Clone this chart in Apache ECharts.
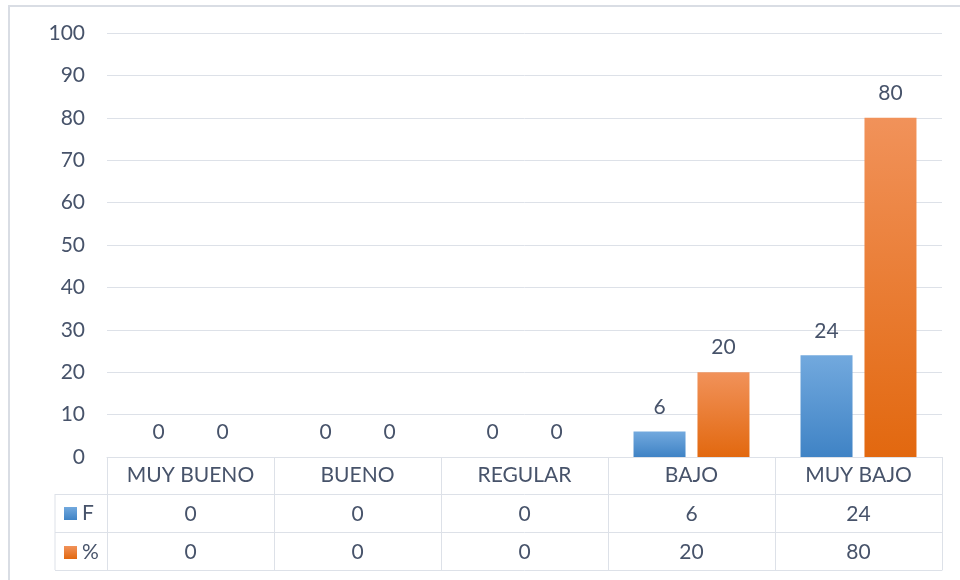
<!DOCTYPE html>
<html>
<head>
<meta charset="utf-8">
<script src="https://cdn.jsdelivr.net/npm/echarts@6/dist/echarts.min.js"></script>
<style>
  html, body { margin: 0; padding: 0; background: #fff; }
  #main { width: 960px; height: 580px; }
</style>
</head>
<body>
<div id="main"></div>
<script>
// datos del gráfico
const categories = ['MUY BUENO', 'BUENO', 'REGULAR', 'BAJO', 'MUY BAJO']
const seriesNames = ['F', '%']
const valuesF = [0, 0, 0, 6, 24]
const valuesPct = [0, 0, 0, 20, 80]
const yTicks = { min: 0, max: 100, interval: 10 }

// layout (px)
const G = { left: 107, right: 18, top: 33, bottom: 123 }
const ROW = [37, 75, 113]          // offsets of table row lines below the x axis
const TABLE_LEFT = 55
const FONT = 'Lato'
const FS = 21
const TXT = '#47536a'
const LINE = '#dde1e8'

const blue = new echarts.graphic.LinearGradient(0, 0, 0, 1, [
  { offset: 0, color: '#72a9de' }, { offset: 1, color: '#3f83c5' }
])
const orange = new echarts.graphic.LinearGradient(0, 0, 0, 1, [
  { offset: 0, color: '#f1925a' }, { offset: 1, color: '#e2680f' }
])

const chart = echarts.init(document.getElementById('main'))

const barLabel = { show: true, position: 'top', distance: 14, color: TXT, fontFamily: FONT, fontSize: FS }

// eje x "fila de tabla": mismas categorías, la etiqueta muestra el valor
function rowAxis(offset, vals) {
  return {
    type: 'category', data: categories, position: 'bottom', offset: offset,
    axisLine: { show: true, lineStyle: { color: LINE, width: 1 } },
    axisTick: { show: false },
    axisLabel: {
      show: !!vals, margin: 10, color: TXT, fontFamily: FONT, fontSize: FS,
      formatter: (v, i) => vals ? String(vals[i]) : ''
    },
    splitLine: { show: false }
  }
}

const H = 580
chart.setOption({
  animation: false,
  backgroundColor: '#fff',
  grid: { left: G.left, right: G.right, top: G.top, bottom: G.bottom },
  legend: {
    data: seriesNames, orient: 'vertical', left: 64, top: 503, padding: 0, itemGap: 18,
    icon: 'rect', itemWidth: 13, itemHeight: 13,
    textStyle: { color: TXT, fontFamily: FONT, fontSize: FS },
    selectedMode: false
  },
  xAxis: [
    {
      type: 'category', data: categories,
      axisLine: { show: true, lineStyle: { color: LINE, width: 1 } },
      axisTick: { show: true, inside: false, length: ROW[2], lineStyle: { color: LINE } },
      axisLabel: { margin: 8, color: TXT, fontFamily: FONT, fontSize: FS },
      splitLine: { show: false }
    },
    rowAxis(ROW[0], valuesF),
    rowAxis(ROW[1], valuesPct),
    rowAxis(ROW[2], null)
  ],
  yAxis: {
    type: 'value', min: yTicks.min, max: yTicks.max, interval: yTicks.interval,
    axisLine: { show: false }, axisTick: { show: false },
    axisLabel: { margin: 22, color: TXT, fontFamily: FONT, fontSize: FS },
    splitLine: { lineStyle: { color: LINE, width: 1 } }
  },
  series: [
    { name: seriesNames[0], type: 'bar', data: valuesF, barWidth: 52, barGap: '23%',
      itemStyle: { color: blue }, label: barLabel },
    { name: seriesNames[1], type: 'bar', data: valuesPct, barWidth: 52,
      itemStyle: { color: orange }, label: barLabel }
  ],
  graphic: [
    // borde exterior
    { type: 'rect', shape: { x: 9, y: 6, width: 960, height: 600 },
      style: { fill: 'none', stroke: '#d9dde4', lineWidth: 2 }, silent: true },
    // columna de leyenda de la tabla
    { type: 'line', shape: { x1: TABLE_LEFT, y1: H - G.bottom + ROW[0], x2: TABLE_LEFT, y2: H - G.bottom + ROW[2] },
      style: { stroke: LINE, lineWidth: 1 } },
    ...ROW.map(o => ({ type: 'line',
      shape: { x1: TABLE_LEFT, y1: H - G.bottom + o + 0.5, x2: G.left, y2: H - G.bottom + o + 0.5 },
      style: { stroke: LINE, lineWidth: 1 } }))
  ]
})
</script>
</body>
</html>
